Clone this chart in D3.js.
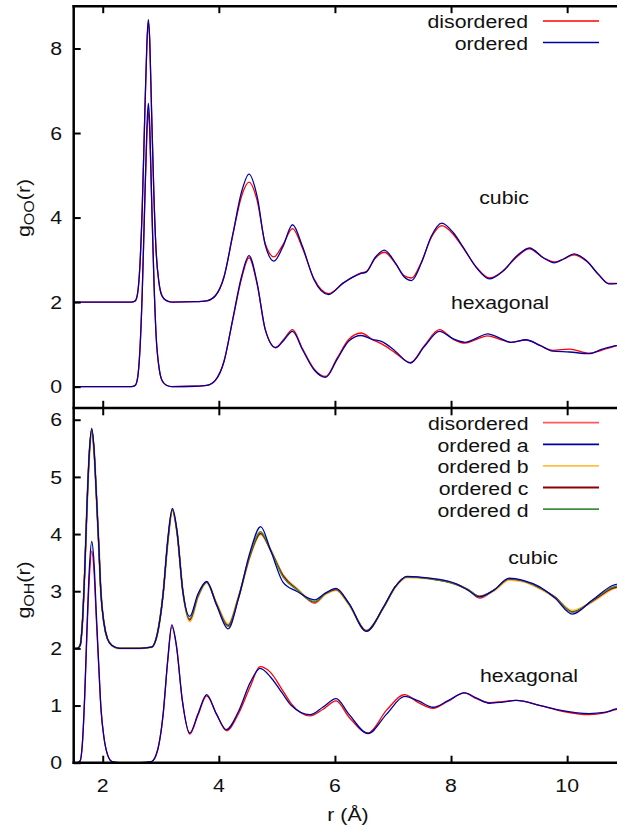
<!DOCTYPE html>
<html>
<head>
<meta charset="utf-8">
<script src="https://cdn.jsdelivr.net/npm/d3@7"></script>
<style>
  html, body { margin: 0; padding: 0; background: #fff; }
  svg { display: block; }
  text { font-family: "Liberation Sans", Arial, Helvetica, sans-serif; fill: #111; }
</style>
</head>
<body>
<svg id="chart" width="617" height="832"></svg>
<script>
// ---- tick values ----
const xTicks = [2, 4, 6, 8, 10];
const yTicksOO = [0, 2, 4, 6, 8];
const yTicksOH = [0, 1, 2, 3, 4, 5, 6];

// ---- g_OO(r): radial grids (Å) ----
const rCubOO = [1.5, 2.49, 2.56, 2.60, 2.64, 2.68, 2.72, 2.76, 2.785, 2.81, 2.84, 2.88, 2.92, 2.97, 3.02, 3.09, 3.19,
  3.59, 3.79, 3.94, 4.09, 4.24, 4.39, 4.52, 4.66, 4.8, 4.95, 5.1, 5.27, 5.44, 5.64, 5.89, 6.14, 6.43, 6.54, 6.69,
  6.85, 7.04, 7.19, 7.32, 7.49, 7.66, 7.84, 8.04, 8.2, 8.44, 8.66, 8.89, 9.14, 9.35, 9.59, 9.78, 9.94, 10.12,
  10.34, 10.54, 10.72, 11.0];
const gCubOrdOO = [0, 0, 0.03, 0.2, 0.85, 2.2, 4.2, 6.1, 6.68, 6.2, 4.6, 2.6, 1.2, 0.45, 0.15, 0.04, 0,
  0.01, 0.03, 0.15, 0.6, 1.6, 2.6, 3.03, 2.5, 1.35, 0.97, 1.3, 1.83, 1.32, 0.53, 0.18, 0.45, 0.67, 0.71, 1.05,
  1.23, 0.93, 0.6, 0.51, 0.93, 1.56, 1.87, 1.64, 1.32, 0.81, 0.55, 0.73, 1.10, 1.28, 1.05, 0.93, 1.02, 1.14,
  0.97, 0.65, 0.43, 0.45];
const gCubDisOO = [0, 0, 0.03, 0.2, 0.85, 2.2, 4.2, 6.05, 6.62, 6.15, 4.6, 2.6, 1.2, 0.45, 0.15, 0.04, 0,
  0.01, 0.03, 0.15, 0.6, 1.58, 2.5, 2.84, 2.4, 1.38, 1.07, 1.35, 1.74, 1.28, 0.55, 0.2, 0.45, 0.68, 0.72, 1.03,
  1.18, 0.92, 0.63, 0.57, 0.95, 1.53, 1.81, 1.6, 1.3, 0.82, 0.57, 0.73, 1.08, 1.26, 1.05, 0.95, 1.02, 1.12,
  0.96, 0.66, 0.44, 0.45];

const rHexOO = [1.5, 2.49, 2.56, 2.60, 2.64, 2.68, 2.72, 2.76, 2.785, 2.81, 2.84, 2.88, 2.92, 2.97, 3.02, 3.09, 3.19,
  3.59, 3.79, 3.94, 4.09, 4.24, 4.39, 4.52, 4.66, 4.8, 4.98, 5.12, 5.27, 5.44, 5.64, 5.84, 6.04, 6.24, 6.45, 6.64,
  6.82, 7.04, 7.3, 7.54, 7.8, 8.04, 8.24, 8.44, 8.63, 8.84, 9.03, 9.29, 9.54, 9.75, 10.04, 10.38, 10.59, 10.78, 11.0];
const gHexOrdOO = [0, 0, 0.03, 0.2, 0.85, 2.2, 4.2, 6.1, 6.70, 6.2, 4.6, 2.6, 1.2, 0.45, 0.15, 0.04, 0,
  0.01, 0.03, 0.15, 0.6, 1.6, 2.6, 3.10, 2.45, 1.35, 0.92, 1.1, 1.31, 0.88, 0.40, 0.22, 0.65, 1.08, 1.21, 1.12,
  1.06, 0.84, 0.56, 0.95, 1.31, 1.13, 1.05, 1.15, 1.25, 1.15, 1.05, 1.11, 0.97, 0.84, 0.82, 0.78, 0.88, 0.95, 1.02];
const gHexDisOO = [0, 0, 0.03, 0.2, 0.85, 2.2, 4.1, 5.9, 6.50, 6.0, 4.5, 2.6, 1.2, 0.45, 0.15, 0.04, 0,
  0.01, 0.03, 0.15, 0.6, 1.58, 2.55, 3.05, 2.42, 1.35, 0.93, 1.12, 1.35, 0.9, 0.42, 0.24, 0.68, 1.12, 1.27, 1.12,
  1.0, 0.8, 0.57, 0.97, 1.35, 1.12, 1.03, 1.12, 1.2, 1.12, 1.05, 1.1, 0.97, 0.86, 0.89, 0.79, 0.86, 0.94, 1.02];

// ---- g_OH(r): radial grids (Å) ----
const rCubOH = [1.5, 1.56, 1.61, 1.65, 1.69, 1.73, 1.77, 1.81, 1.85, 1.89, 1.93, 1.97, 2.02, 2.08, 2.16, 2.29,
  2.64, 2.84, 2.94, 3.04, 3.12, 3.2, 3.28, 3.38, 3.5, 3.64, 3.79, 3.96, 4.16, 4.34, 4.54, 4.72, 4.89, 5.11, 5.34,
  5.65, 5.84, 6.02, 6.24, 6.54, 6.84, 7.04, 7.24, 7.63, 8.09, 8.29, 8.49, 8.74, 9.0, 9.24, 9.52, 9.79, 10.09,
  10.44, 10.78, 11.0];
const gCubDisOH = [0, 0, 0.05, 0.45, 1.35, 2.5, 3.4, 3.8, 3.45, 2.7, 1.85, 0.95, 0.45, 0.17, 0.05, 0,
  0, 0.02, 0.25, 0.95, 1.85, 2.40, 2.02, 1.0, 0.48, 0.9, 1.15, 0.78, 0.41, 0.9, 1.62, 2.0, 1.72, 1.28, 1.05,
  0.79, 0.95, 1.03, 0.78, 0.31, 0.72, 1.08, 1.25, 1.22, 1.12, 1.03, 0.88, 1.02, 1.21, 1.18, 1.06, 0.9, 0.65,
  0.83, 1.05, 1.1];
const gCubAOH = [0, 0, 0.05, 0.45, 1.35, 2.55, 3.45, 3.85, 3.5, 2.7, 1.85, 0.95, 0.45, 0.17, 0.05, 0,
  0, 0.02, 0.25, 0.95, 1.9, 2.45, 2.05, 1.0, 0.56, 0.95, 1.17, 0.76, 0.34, 0.88, 1.69, 2.13, 1.72, 1.15, 1.0,
  0.85, 0.97, 1.05, 0.79, 0.30, 0.73, 1.08, 1.26, 1.23, 1.13, 1.02, 0.90, 1.02, 1.23, 1.19, 1.08, 0.88, 0.60,
  0.85, 1.10, 1.15];
const gCubBOH = [0, 0, 0.05, 0.45, 1.35, 2.5, 3.4, 3.8, 3.45, 2.7, 1.85, 0.95, 0.45, 0.17, 0.05, 0,
  0, 0.02, 0.25, 0.95, 1.85, 2.41, 2.03, 1.0, 0.47, 0.9, 1.15, 0.79, 0.42, 0.9, 1.62, 2.0, 1.73, 1.27, 1.05,
  0.81, 0.95, 1.02, 0.77, 0.31, 0.72, 1.07, 1.24, 1.22, 1.12, 1.03, 0.91, 1.01, 1.2, 1.17, 1.05, 0.89, 0.66,
  0.82, 1.04, 1.1];
const gCubCOH = [0, 0, 0.05, 0.45, 1.35, 2.5, 3.42, 3.82, 3.47, 2.7, 1.85, 0.95, 0.45, 0.17, 0.05, 0,
  0, 0.02, 0.25, 0.95, 1.86, 2.42, 2.03, 1.0, 0.5, 0.91, 1.16, 0.78, 0.4, 0.9, 1.63, 2.01, 1.72, 1.27, 1.04,
  0.81, 0.96, 1.03, 0.78, 0.31, 0.72, 1.08, 1.25, 1.22, 1.12, 1.03, 0.91, 1.02, 1.21, 1.18, 1.06, 0.9, 0.64,
  0.83, 1.05, 1.1];
const gCubDOH = [0, 0, 0.05, 0.45, 1.35, 2.52, 3.43, 3.83, 3.48, 2.7, 1.85, 0.95, 0.45, 0.17, 0.05, 0,
  0, 0.02, 0.25, 0.95, 1.87, 2.43, 2.04, 1.0, 0.52, 0.92, 1.16, 0.77, 0.38, 0.89, 1.65, 2.04, 1.72, 1.24, 1.03,
  0.82, 0.96, 1.04, 0.78, 0.3, 0.72, 1.08, 1.25, 1.22, 1.12, 1.03, 0.91, 1.02, 1.22, 1.18, 1.07, 0.89, 0.63,
  0.84, 1.07, 1.12];

const rHexOH = [1.5, 1.56, 1.61, 1.65, 1.69, 1.73, 1.77, 1.81, 1.85, 1.89, 1.93, 1.97, 2.02, 2.08, 2.16, 2.29,
  2.64, 2.84, 2.94, 3.04, 3.12, 3.19, 3.27, 3.37, 3.5, 3.64, 3.79, 3.96, 4.13, 4.34, 4.54, 4.71, 4.89, 5.09, 5.25,
  5.57, 5.79, 6.02, 6.24, 6.57, 6.89, 7.2, 7.44, 7.69, 7.94, 8.23, 8.44, 8.66, 8.89, 9.12, 9.54, 9.92, 10.38,
  10.64, 10.84, 11.0];
const gHexAOH = [0, 0, 0.03, 0.35, 1.2, 2.4, 3.4, 3.87, 3.5, 2.6, 1.75, 0.95, 0.45, 0.15, 0.02, 0,
  0, 0.02, 0.2, 0.85, 1.8, 2.41, 2.05, 1.1, 0.52, 0.85, 1.19, 0.85, 0.58, 0.9, 1.4, 1.65, 1.5, 1.22, 1.0,
  0.84, 0.97, 1.12, 0.85, 0.51, 0.85, 1.16, 1.08, 0.97, 1.08, 1.22, 1.13, 1.04, 1.06, 1.09, 1.0, 0.91, 0.86,
  0.88, 0.94, 0.97];
const gHexDisOH = [0, 0, 0.03, 0.33, 1.15, 2.3, 3.25, 3.7, 3.35, 2.5, 1.7, 0.93, 0.45, 0.15, 0.02, 0,
  0, 0.02, 0.2, 0.83, 1.78, 2.38, 2.03, 1.1, 0.5, 0.83, 1.17, 0.85, 0.56, 0.86, 1.33, 1.68, 1.58, 1.28, 1.03,
  0.82, 0.93, 1.08, 0.8, 0.52, 0.92, 1.19, 1.05, 0.95, 1.07, 1.22, 1.12, 1.05, 1.07, 1.09, 1.0, 0.9, 0.84,
  0.87, 0.93, 0.96];

// vertical offset applied to the cubic curves
const CUBIC_SHIFT = 2;

// ---- colours ----
const RED = "#ff0000", BLUE = "#0000a0", ORANGE = "#ffbf40", DARKRED = "#8b0000", GREEN = "#3f8f3f";

// ---- layout ----
const svg = d3.select("#chart");
const x = d3.scaleLinear().domain([1.5, 11]).range([73.7, 625.2]);
const yOO = d3.scaleLinear().domain([-0.5, 9]).range([407.8, 6.2]);
const yOH = d3.scaleLinear().domain([0, 6.2]).range([762.7, 408.3]);
const SX = 1.15;       // horizontal stretch of lettering
const FS = 18.5;       // font size

function txt(parent, str, px, py, anchor, rot) {
  const t = parent.append("text")
    .attr("transform", `translate(${px},${py})` + (rot ? ` rotate(${rot})` : "") + ` scale(${SX},1)`)
    .attr("text-anchor", anchor)
    .style("font-size", FS + "px");
  if (str !== null) t.text(str);
  return t;
}

const defs = svg.append("defs");
defs.append("clipPath").attr("id", "clipOO").append("rect")
  .attr("x", x.range()[0]).attr("y", yOO.range()[1])
  .attr("width", x.range()[1] - x.range()[0]).attr("height", yOO.range()[0] - yOO.range()[1]);
defs.append("clipPath").attr("id", "clipOH").append("rect")
  .attr("x", x.range()[0]).attr("y", yOH.range()[1])
  .attr("width", x.range()[1] - x.range()[0]).attr("height", yOH.range()[0] - yOH.range()[1]);

function drawCurve(layer, y, r, g, shift, color, width) {
  const pts = r.map((rv, i) => [rv, g[i] + shift]);
  layer.append("path")
    .attr("d", d3.line().x(d => x(d[0])).y(d => y(d[1])).curve(d3.curveMonotoneX)(pts))
    .attr("fill", "none").attr("stroke", color).attr("stroke-width", width)
    .attr("stroke-linejoin", "round");
}

// ---- upper panel: O–O ----
const topLayer = svg.append("g").attr("clip-path", "url(#clipOO)");
drawCurve(topLayer, yOO, rCubOO, gCubDisOO, CUBIC_SHIFT, RED, 1.3);
drawCurve(topLayer, yOO, rCubOO, gCubOrdOO, CUBIC_SHIFT, BLUE, 1.3);
drawCurve(topLayer, yOO, rHexOO, gHexDisOO, 0, RED, 1.3);
drawCurve(topLayer, yOO, rHexOO, gHexOrdOO, 0, BLUE, 1.3);

// ---- lower panel: O–H ----
const botLayer = svg.append("g").attr("clip-path", "url(#clipOH)");
drawCurve(botLayer, yOH, rCubOH, gCubDisOH, CUBIC_SHIFT, RED, 1.3);
drawCurve(botLayer, yOH, rCubOH, gCubBOH, CUBIC_SHIFT, ORANGE, 2.2);
drawCurve(botLayer, yOH, rCubOH, gCubCOH, CUBIC_SHIFT, DARKRED, 1.3);
drawCurve(botLayer, yOH, rCubOH, gCubDOH, CUBIC_SHIFT, GREEN, 1.3);
drawCurve(botLayer, yOH, rCubOH, gCubAOH, CUBIC_SHIFT, BLUE, 1.3);
drawCurve(botLayer, yOH, rHexOH, gHexDisOH, 0, RED, 1.3);
drawCurve(botLayer, yOH, rHexOH, gHexAOH, 0, BLUE, 1.3);

// ---- ticks (inward) ----
function tickGroup(axis, tx, ty) {
  const g = svg.append("g").attr("transform", `translate(${tx},${ty})`).call(axis);
  g.select(".domain").remove();
  g.selectAll(".tick line").attr("stroke", "#000").attr("stroke-width", 2);
  g.selectAll(".tick text").remove();
  return g;
}
const x0 = x.range()[0];
tickGroup(d3.axisLeft(yOO).tickValues(yTicksOO).tickSize(-7), x0, 0);
tickGroup(d3.axisLeft(yOH).tickValues(yTicksOH).tickSize(-7), x0, 0);
tickGroup(d3.axisTop(x).tickValues(xTicks).tickSize(-7), 0, yOO.range()[1]);
tickGroup(d3.axisBottom(x).tickValues(xTicks).tickSize(-7), 0, yOO.range()[0]);
tickGroup(d3.axisTop(x).tickValues(xTicks).tickSize(-7), 0, yOH.range()[1]);
tickGroup(d3.axisBottom(x).tickValues(xTicks).tickSize(-7), 0, yOH.range()[0]);

// ---- frames ----
const frame = svg.append("g").attr("stroke", "#000").attr("stroke-width", 2.5).attr("fill", "none");
frame.append("line").attr("x1", x0).attr("x2", x0).attr("y1", yOO.range()[1] - 1.2).attr("y2", yOH.range()[0] + 1.2);
[yOO.range()[1], (yOO.range()[0] + yOH.range()[1]) / 2, yOH.range()[0]].forEach(yy => {
  frame.append("line").attr("x1", x0 - 1.2).attr("x2", x.range()[1]).attr("y1", yy).attr("y2", yy);
});

// ---- tick labels ----
const labels = svg.append("g");
yTicksOO.forEach(v => txt(labels, String(v), 62, yOO(v) + 6.7, "end"));
yTicksOH.forEach(v => txt(labels, String(v), 62, yOH(v) + 6.7, "end"));
xTicks.forEach(v => txt(labels, String(v), x(v), 791.5, "middle"));

// ---- axis titles ----
txt(labels, "r (Å)", 348, 821, "middle");
function yTitle(sub, cy) {
  const t = txt(labels, null, 30, cy, "middle", -90);
  t.append("tspan").text("g");
  t.append("tspan").attr("dy", 4).style("font-size", "14px").text(sub);
  t.append("tspan").attr("dy", -4).text("(r)");
}
yTitle("OO", 208);
yTitle("OH", 590);

// ---- structure labels ----
txt(labels, "cubic", 504, 204, "middle");
txt(labels, "hexagonal", 500, 309, "middle");
txt(labels, "cubic", 533, 564, "middle");
txt(labels, "hexagonal", 529, 682, "middle");

// ---- legends ----
const legendOO = ["disordered", "ordered"];
const legendOOColors = [RED, BLUE];
const legendOH = ["disordered", "ordered a", "ordered b", "ordered c", "ordered d"];
const legendOHColors = ["#ff5a5a", BLUE, ORANGE, DARKRED, GREEN];

const leg = svg.append("g");
legendOO.forEach((name, i) => {
  const ly = 21 + i * 21.5;
  txt(leg, name, 528, ly + 7.4, "end");
  leg.append("line").attr("x1", 543).attr("x2", 599).attr("y1", ly).attr("y2", ly)
    .attr("stroke", legendOOColors[i]).attr("stroke-width", 1.3);
});
legendOH.forEach((name, i) => {
  const ly = 422.7 + i * 21.6;
  txt(leg, name, 528.5, ly + 7.4, "end");
  leg.append("line").attr("x1", 543).attr("x2", 599).attr("y1", ly).attr("y2", ly)
    .attr("stroke", legendOHColors[i]).attr("stroke-width", 1.8);
});
</script>
</body>
</html>
